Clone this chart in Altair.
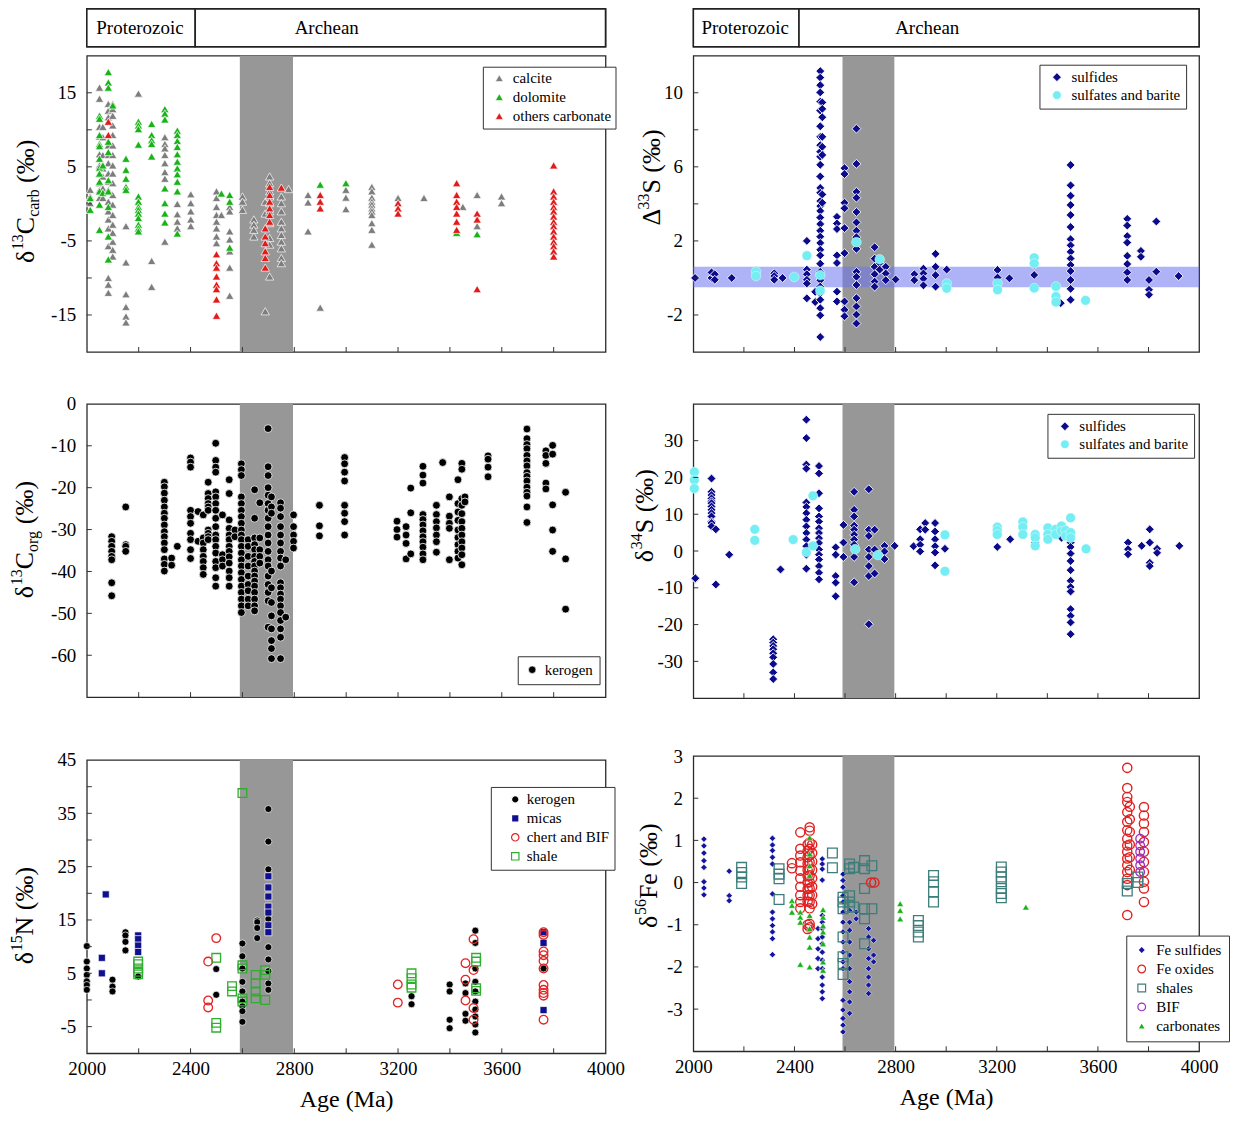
import altair as alt
import pandas as pd

FONT = "Liberation Serif"
AGE_DOMAIN = [2000, 4000]
x_label_values = [2000, 2400, 2800, 3200, 3600, 4000]
x_tick_values = [2200, 2400, 2600, 2800, 3000, 3200, 3400, 3600, 3800]
band_start = [2590]
band_end = [2795]
era_name = ["Proterozoic", "Archean"]
era_start = [2000, 2418]
era_end = [2418, 4000]
era_label_age = [2205, 2925]
d33_band_low = [-0.5]
d33_band_high = [0.6]

# ---------------- d13C carb ----------------
carb_calcite = [
    (2013, [1.9, 1.0, 0.1]),
    (2049, [15.7, 14.2, 10.4, 9.1, 6.7, 5.2, 4.0, 2.8, 1.9, 0.8]),
    (2062, [10.4, 9.0, 6.6, 4.8, 3.7, 2.1, 0.8]),
    (2083, [13.5, 12.6, 11.7, 7.9, 6.6, 5.5, 4.1, 3.0, 1.9, 0.3, -1.0, -2.1, -3.3, -4.4, -5.7, -10.0, -10.9, -12.0]),
    (2100, [13.5, 12.8, 11.9, 10.6, 9.3, 7.9, 6.6, 5.2, 4.1, 2.8, 1.2, -0.1, -1.5, -2.8, -3.9, -5.1, -6.2, -7.1]),
    (2151, [-3.0, -7.9, -12.2, -13.9, -15.2, -16.0]),
    (2199, [14.9]),
    (2250, [-7.7, -11.2]),
    (2301, [9.0, 8.1, 7.5, 6.6, 5.5, 4.3, 3.4, -5.1]),
    (2349, [0.0, -1.4, -2.4, -3.3]),
    (2401, [1.3, 0.1, -1.0, -2.1, -3.0]),
    (2500, [1.7, 0.8, -0.4, -1.5, -2.4, -3.3, -4.4, -5.3]),
    (2519, [-1.5]),
    (2551, [-0.4, -1.0, -3.7, -4.8, -6.4, -8.6, -12.4]),
    (2600, [1.0, 0.3, -0.8]),
    (2644, [-2.1, -2.8, -3.5, -4.4]),
    (2688, [0.3, -1.3, -14.5]),
    (2705, [3.7, 2.8, 1.7, 1.0, 0.1, -1.0, -2.6, -4.6, -5.5, -9.8]),
    (2750, [1.0, 0.1, -1.0, -2.4, -3.3, -4.2, -5.1, -6.0, -7.3, -8.0]),
    (2778, [2.0]),
    (2853, [1.2, 0.2, -3.7]),
    (2900, [-14.0]),
    (2999, [1.9, 0.85, -0.7]),
    (3099, [2.3, 1.7, 0.85, 0.3, -0.1, -0.6, -1.0, -1.5, -2.6, -3.5, -5.5]),
    (3200, [0.8]),
    (3300, [0.8]),
    (3450, [-0.4]),
    (3505, [1.2, -3.0]),
    (3599, [1.0, 0.1]),
]
carb_dolomite = [
    (2013, [0.8, -0.8]),
    (2049, [11.9, 11.5, 9.3, 8.1, 7.8, 6.1, 4.9, 4.1, 3.0, 1.7, -0.1, -3.5]),
    (2062, [5.2, 1.5]),
    (2083, [17.8, 16.4, 15.7, 8.4, 7.0, 3.2, 1.7, -0.4, -4.4, -7.5]),
    (2100, [13.3]),
    (2151, [6.1, 4.6, 3.4, 2.3, 1.9]),
    (2199, [11.1, 10.6, 10.1, 8.0, 1.0, 0.3, -0.4, -0.8, -1.3, -1.9, -2.8, -3.3, -3.7]),
    (2250, [10.8, 9.3, 8.6, 8.1, 6.4]),
    (2301, [12.8, 12.2, 11.4, 2.1, 0.1, -1.3, -2.5]),
    (2349, [9.9, 9.3, 8.5, 7.7, 6.7, 5.7, 4.8, 4.0, 3.0, 1.7, -4.0]),
    (2519, [1.4]),
    (2551, [1.2, 0.3, -5.9]),
    (2900, [2.6]),
    (2999, [2.8]),
    (3426, [-3.9]),
    (3505, [-4.1]),
]
carb_others = [
    (2083, [11.1, 9.3]),
    (2500, [-6.8, -8.0, -8.6, -9.8, -10.9, -11.5, -12.9, -15.1]),
    (2688, [-3.3, -4.4, -5.3, -6.4, -7.3, -8.6]),
    (2705, [2.3, 1.2, 0.3, -0.6, -1.5, -2.4]),
    (2750, [2.2]),
    (2900, [1.2, 0.3, -0.6]),
    (3200, [0.1, -0.6, -1.3]),
    (3426, [2.8, 1.2, 0.3, -0.4, -1.3, -2.4, -3.5]),
    (3505, [-1.3, -2.1, -11.5]),
    (3800, [5.2, 1.7, 1.0, 0.3, -0.4, -1.0, -1.7, -2.4, -3.0, -3.7, -4.4, -5.1, -5.7, -6.4, -7.1]),
]

# ---------------- D33S ----------------
s33_sulfides = [
    (2007, [0.0]),
    (2072, [0.0, 0.3]),
    (2085, [0.2, -0.1]),
    (2152, [0.0]),
    (2320, [0.25, 0.1, -0.1]),
    (2353, [0.0]),
    (2449, [2.0, 0.45, 0.2, -0.1, -0.3, -1.1]),
    (2482, [-0.75, -1.3]),
    (2502, [11.17, 10.82, 10.41, 10.02, 9.52, 9.04, 8.19, 7.62, 7.17, 6.82, 6.55, 6.11, 5.48, 4.86, 4.6, 4.15, 3.88,
            3.62, 3.26, 2.91, 2.55, 2.23, 1.89, 1.52, 1.22, 0.77, 0.33, -0.12, -0.47, -0.83, -1.18, -1.63, -2.02, -3.19]),
    (2510, [9.48, 9.13, 8.68, 7.62, 7.08, 6.64, 4.51, 4.06]),
    (2568, [3.3, 2.94, 2.64, 1.22, 0.81, -0.74, -1.27]),
    (2598, [5.93, 5.61, 4.06, 3.76, 2.69, 1.34, -1.27, -1.72, -2.07]),
    (2645, [8.06, 6.16, 4.65, 4.33, 3.56, 3.0, 2.55, 2.2, 1.57, 0.33, 0.06, -0.38, -1.09, -1.54, -1.98, -2.46]),
    (2717, [1.66, 1.04, 0.6, 0.2, -0.2, -0.47]),
    (2737, [0.8, 0.45]),
    (2761, [0.6, 0.24, -0.12]),
    (2800, [-0.08]),
    (2874, [0.2, -0.12]),
    (2910, [0.5, 0.24, -0.04, -0.4]),
    (2958, [1.3, 0.6, 0.15, -0.47]),
    (3002, [0.45]),
    (3203, [0.43, 0.02]),
    (3250, [-0.02]),
    (3348, [0.7, 0.16]),
    (3453, [-1.36]),
    (3492, [6.1, 5.0, 4.44, 3.94, 3.4, 2.75, 2.09, 1.76, 1.41, 1.05, 0.7, 0.37, -0.11, -0.59, -1.18]),
    (3716, [3.19, 2.83, 2.26, 1.91, 1.19, 0.75, 0.3, -0.11]),
    (3770, [1.46, 1.14]),
    (3802, [-0.11, -0.64, -0.91]),
    (3831, [3.05, 0.34]),
    (3919, [0.1]),
]
s33_sulfates = [
    (2248, [0.35, 0.1]),
    (2399, [0.05]),
    (2449, [1.2]),
    (2502, [0.15, -0.68]),
    (2645, [1.93]),
    (2737, [1.0]),
    (3002, [-0.3, -0.56]),
    (3203, [-0.29, -0.64]),
    (3348, [1.09, 0.78, -0.55]),
    (3434, [-0.46, -1.0, -1.3]),
    (3551, [-1.21]),
]

# ---------------- d13C org ----------------
org_kerogen = [
    (2096, [-31.7, -32.8, -34.0, -35.2, -36.4, -37.2, -42.7, -45.8]),
    (2150, [-24.6, -33.6, -34.0, -35.2]),
    (2299, [-18.7, -19.8, -21.3, -23.0, -24.6, -26.1, -27.3, -28.9, -30.5, -31.7, -33.2, -34.8, -37.0, -38.3, -39.9]),
    (2327, [-36.8, -38.5]),
    (2349, [-34.0]),
    (2400, [-12.9, -13.9, -15.1, -25.4, -26.9, -28.5, -30.9, -32.4, -34.8, -36.9]),
    (2429, [-25.7, -32.8]),
    (2449, [-26.5, -32.0, -33.2, -34.8, -36.4, -37.6, -39.1, -40.7]),
    (2468, [-18.7, -21.4, -22.6, -23.8, -24.6, -25.4, -30.1, -30.9, -31.7, -32.4]),
    (2497, [-9.4, -13.5, -15.1, -16.3, -21.0, -22.2, -23.8, -25.4, -27.3, -29.3, -31.3, -32.4, -34.0, -35.6, -37.6,
            -39.1, -41.5, -43.5]),
    (2523, [-26.5, -36.0, -37.2, -38.7]),
    (2549, [-18.1, -21.4, -27.7, -29.7, -31.3, -32.4, -34.0, -35.2, -36.5, -38.0, -39.9, -41.5, -43.5]),
    (2571, [-30.1, -31.7]),
    (2596, [-14.3, -15.7, -17.1, -22.2, -23.8, -25.4, -26.9, -28.5, -30.1, -31.3, -32.4, -34.0, -35.6, -37.2, -38.7,
            -40.3, -41.9, -43.5, -45.0, -46.6, -48.2, -49.8]),
    (2622, [-32.4, -34.0, -36.4, -38.7, -41.1, -43.1, -44.6, -46.6, -48.2]),
    (2647, [-20.5, -27.3, -32.0, -33.6, -34.8, -36.4, -37.6, -38.7, -39.9, -41.1, -42.3, -43.5, -45.0, -46.6, -48.2,
            -49.4]),
    (2667, [-23.6, -32.0, -34.8, -36.4, -38.0]),
    (2699, [-5.9, -15.0, -17.1, -20.0, -21.8, -23.8, -25.4, -27.3, -29.3, -31.3, -33.2, -35.2, -37.2, -38.7, -41.1,
            -43.1, -45.0, -47.0, -53.3]),
    (2712, [-22.2, -24.6, -26.1, -39.9, -43.9, -47.4, -50.6, -53.7, -56.5, -58.4, -60.8]),
    (2747, [-23.6, -24.9, -26.9, -29.3, -31.3, -33.2, -35.2, -36.8, -38.7, -42.7, -43.9, -45.4, -46.6, -48.2, -49.8,
            -51.7, -53.7, -55.7, -60.8]),
    (2767, [-37.2, -50.9]),
    (2797, [-26.5, -29.3, -31.3, -32.8, -34.4]),
    (2897, [-24.2, -29.1, -31.5]),
    (2994, [-12.8, -14.3, -16.3, -18.4, -24.2, -26.1, -28.1, -31.3]),
    (3196, [-28.0, -30.0, -31.8]),
    (3231, [-29.3, -31.3, -33.3, -37.0]),
    (3249, [-20.1, -26.0, -35.8]),
    (3296, [-14.9, -17.0, -18.9, -26.4, -27.6, -28.9, -30.3, -31.7, -32.9, -34.2, -35.8, -37.2]),
    (3348, [-24.2, -26.4, -28.1, -29.6, -31.3, -32.9, -35.4]),
    (3372, [-14.0]),
    (3398, [-22.2, -26.8, -28.5, -29.7, -37.2]),
    (3431, [-18.1, -23.8, -25.8, -27.8, -30.1, -31.9, -33.6, -35.2, -36.8]),
    (3446, [-14.2, -15.6, -22.6, -24.2, -26.2, -28.1, -29.7, -31.3, -32.9, -34.4, -36.0, -38.4]),
    (3458, [-22.2, -23.4]),
    (3547, [-12.4, -13.2, -15.1, -17.4]),
    (3697, [-6.0, -8.3, -9.7, -10.7, -12.3, -13.6, -14.8, -16.4, -17.3, -18.4, -19.9, -21.1, -22.0, -24.6, -28.3]),
    (3770, [-11.2, -12.3, -14.2, -18.9, -20.3]),
    (3796, [-9.9, -12.0, -24.1, -30.1, -35.2]),
    (3846, [-21.1, -37.0, -49.0]),
]

# ---------------- d34S ----------------
s34_sulfides = [
    (2008, [-7.6, -7.4]),
    (2072, [19.7, 16.1, 15.2, 14.3, 13.5, 13.0, 12.1, 11.2, 10.3, 9.4, 8.0, 7.6, 6.7]),
    (2089, [5.9, -9.1]),
    (2142, [-1.0]),
    (2316, [-24.0, -24.9, -25.8, -26.7, -27.8, -28.9, -30.7, -33.0, -34.8]),
    (2345, [-5.0]),
    (2447, [35.7, 30.7, 23.5, 22.4, 13.2, 12.0, 10.3, 8.5, 6.7, 4.9, 3.1, 1.3, -1.0, -4.8]),
    (2497, [23.1, 21.1, 15.7, 11.6, 9.4, 8.0, 6.2, 4.9, 3.5, 2.2, 0.4, -1.0, -2.3, -4.1, -5.9, -7.7]),
    (2563, [1.0, -1.0, -6.8, -8.6, -12.3]),
    (2594, [7.1, 2.3, -1.6]),
    (2636, [16.1, 11.2, 9.4, 6.9, 5.8, 4.4, 3.1, 1.7, -1.6, -8.5]),
    (2694, [16.8, 5.8, 4.1, 0.4, -1.6, -4.1, -6.8, -19.9]),
    (2717, [5.8, 0.4, -6.1]),
    (2756, [1.4, -0.1, -2.2]),
    (2796, [1.4]),
    (2871, [1.3]),
    (2897, [5.9, 3.2, 1.7, -0.1]),
    (2917, [7.6, 5.8]),
    (2956, [7.6, 5.3, 3.2, 1.3, -0.4, -3.9]),
    (2995, [0.6]),
    (3202, [1.1]),
    (3253, [3.2]),
    (3352, [2.3]),
    (3456, [3.6]),
    (3492, [3.2, 2.3, 1.1, -0.7, -2.7, -5.2, -8.1, -9.8, -11.0, -15.8, -17.6, -19.4, -22.6]),
    (3719, [2.3, 0.5, -0.9]),
    (3773, [1.4]),
    (3805, [5.9, 2.3, -3.2, -4.1]),
    (3834, [0.6, -0.5]),
    (3922, [1.4]),
]
s34_sulfates = [
    (2004, [21.5, 19.3, 17.0]),
    (2243, [5.9, 2.9]),
    (2395, [3.1]),
    (2447, [-0.3]),
    (2473, [15.0, 1.4]),
    (2640, [0.5]),
    (2730, [-1.1]),
    (2995, [4.4, -5.5]),
    (3202, [6.5, 5.6, 4.5]),
    (3303, [7.9, 6.5, 4.5]),
    (3352, [4.5, 3.6, 1.4]),
    (3402, [6.3, 4.5, 3.2]),
    (3433, [5.9, 4.5]),
    (3456, [6.8, 5.4]),
    (3472, [5.6, 4.1]),
    (3492, [9.0, 5.0, 3.6]),
    (3553, [0.6]),
]

# ---------------- d15N ----------------
n15_kerogen = [
    (2000, [10.1, 7.2, 5.9, 4.7, 3.5, 2.8, 1.9]),
    (2099, [3.8, 2.5, 1.6]),
    (2149, [12.7, 12.1, 10.9, 9.3]),
    (2198, [4.4]),
    (2499, [5.8, 0.97]),
    (2600, [10.6, 8.2, 5.9, 3.4, 1.6, -0.3, -1.2, -2.1, -4.1]),
    (2657, [14.9, 14.6, 13.5, 11.6]),
    (2700, [35.8, 29.7, 24.5, 15.2, 9.9, 7.6, 5.4, 3.1, 1.9]),
    (3252, [0.7, -0.8]),
    (3399, [2.9, 1.6, -3.7, -5.3]),
    (3460, [3.1, 1.3, -2.6, -3.9]),
    (3498, [13.0, 10.7, 5.9, 3.4, 1.6, -0.3, -1.8, -3.1, -4.6, -6.1]),
    (3761, [5.9]),
]
n15_micas = [
    (2058, [7.9, 5.0]),
    (2073, [19.8]),
    (2198, [12.1, 11.4, 10.2, 9.0]),
    (2700, [23.2, 21.1, 19.4, 17.5, 16.4, 14.0, 12.7]),
    (3761, [12.7, 10.7, -1.9]),
]
n15_chert = [
    (2468, [7.2, -0.1, -1.4]),
    (2499, [11.6]),
    (3199, [2.9, -0.5]),
    (3460, [6.9, 3.8, -0.1]),
    (3491, [11.4, 5.6, -1.5, -3.7]),
    (3761, [12.7, 12.2, 9.1, 8.4, 7.3, 5.9, 2.8, 1.9, 1.3, 0.8, -3.7]),
]
n15_shale = [
    (2198, [7.2, 6.7, 5.9, 5.3, 4.8]),
    (2499, [7.9, -4.3, -5.2]),
    (2560, [2.6, 1.6]),
    (2600, [38.8, 6.5, 5.9, 0.3, -0.3]),
    (2651, [4.7, 3.1, 1.6, 0.3]),
    (2688, [5.6, 4.7, 0.0]),
    (3252, [5.0, 4.1, 2.9, 2.3]),
    (3501, [7.9, 7.2, 2.2, 1.7]),
]

# ---------------- d56Fe ----------------
fe_sulfides = [
    (2042, [1.03, 0.87, 0.70, 0.52, 0.36, 0.02, -0.13, -0.29]),
    (2142, [0.27, -0.31, -0.43]),
    (2313, [1.05, 0.89, 0.76, 0.6, 0.44, -0.27, -0.70, -0.86, -1.02, -1.17, -1.33, -1.71]),
    (2493, [-1.09, -1.33, -1.57, -1.80, -2.04]),
    (2510, [0.56, 0.44, 0.32, 0.06, -0.78, -0.94, -1.09, -1.29, -1.45, -1.65, -1.84, -2.04, -2.24, -2.43, -2.59, -2.75]),
    (2592, [0.2, 0.05, -0.11, -0.31, -0.46, -0.70, -0.94, -1.17, -1.41, -1.65, -1.88, -2.04, -2.79, -3.02, -3.22,
            -3.38, -3.54]),
    (2618, [-0.66, -0.94, -1.13, -1.41, -1.72, -2.04, -2.35, -2.59, -2.83, -3.1]),
    (2644, [-0.70, -0.86]),
    (2693, [-1.09, -1.29, -1.57, -1.80, -2.04, -2.24, -2.43, -2.63]),
    (2713, [-1.37, -1.72, -1.88]),
]
fe_oxides = [
    (2390, [0.46, 0.34]),
    (2423, [1.19, 0.8, 0.64, 0.48, 0.28, 0.1, -0.10, -0.30, -0.46, -0.61]),
    (2452, [0.9, 0.75, 0.6, 0.45, 0.3, 0.15, 0.0, -0.15, -0.3, -0.45, -1.0, -1.1]),
    (2460, [1.31, 1.23, 0.95, 0.8, 0.64, 0.48, 0.32, 0.17, 0.01, -0.14, -0.30, -0.46, -0.61, -0.98, -1.06]),
    (2470, [0.9, 0.7, 0.5, 0.3, 0.1, -0.1, -0.3, -0.5]),
    (2703, [0.0]),
    (2716, [0.0]),
    (3716, [2.72, 2.24, 2.03, 1.91, 1.67, 1.44, 1.24, 1.04, 0.88, 0.73, 0.57, 0.41, 0.25, 0.09, -0.06, -0.77]),
    (3726, [1.8, 1.5, 1.2, 0.9, 0.6, 0.3]),
    (3782, [1.79, 1.59, 1.40, 1.20, 0.96, 0.73, 0.49, 0.25, 0.02, -0.14, -0.46]),
]
fe_shales = [
    (2191, [0.36, 0.24, 0.13, -0.02]),
    (2339, [0.33, 0.2, 0.09, -0.40]),
    (2550, [0.70, 0.35]),
    (2592, [-0.35, -0.46, -0.62, -1.29, -1.76, -1.92, -2.18]),
    (2618, [0.44, 0.33, -0.31, -0.46, -0.58]),
    (2634, [0.36, -0.58]),
    (2677, [0.52, 0.33, -0.14, -0.62, -0.86, -1.45]),
    (2706, [0.40, -0.62]),
    (2890, [-0.9, -1.02, -1.17, -1.29]),
    (2950, [0.17, 0.02, -0.22, -0.46]),
    (3218, [0.37, 0.25, 0.13, 0.02, -0.14, -0.26, -0.36]),
    (3716, [-0.02, -0.2]),
    (3758, [0.13, 0.0]),
]
fe_bif = [
    (3767, [1.04, 0.88, 0.73, 0.57, 0.41, 0.25]),
]
fe_carbonates = [
    (2390, [-0.43, -0.54, -0.70]),
    (2423, [-0.70, -0.82, -0.94, -1.94]),
    (2460, [1.07, 0.68, 0.40, 0.17, -0.78, -1.09, -1.29, -1.53, -2.0]),
    (2513, [-0.64, -0.82, -1.02, -1.17, -1.45, -1.88, -2.08]),
    (2818, [-0.5, -0.66, -0.86]),
    (3315, [-0.58]),
]


# ======================= helpers =======================
def to_df(series_list):
    rows = []
    for name, groups in series_list:
        for age, vals in groups:
            for v in vals:
                rows.append({"age": age, "value": v, "series": name})
    return pd.DataFrame(rows)


EM = {"δ": 0.5, "Δ": 0.612, "C": 0.667, "S": 0.556, "N": 0.722, "F": 0.556, "e": 0.444, "c": 0.444,
      "a": 0.444, "r": 0.333, "b": 0.5, "o": 0.5, "g": 0.5, "(": 0.333, ")": 0.333, "‰": 1.0, " ": 0.25}


def text_width(s, size):
    return sum(EM.get(ch, 0.5) for ch in s) * size


ONE = pd.DataFrame({"k": [0]})


def title_layers(pieces, cx, cy, big=26, small=16):
    def psize(kind):
        return big if kind in ("n", "gap") else small

    total = 0.0
    for t, k in pieces:
        total += 0.25 * big if k == "gap" else text_width(t, psize(k))
    ax = cx + 0.33 * big
    ay = cy + total / 2
    pos = 0.0
    out = []
    for t, k in pieces:
        if k == "gap":
            pos += 0.25 * big
            continue
        size = psize(k)
        dy = {"n": 0, "sup": -0.42 * big, "sub": 0.22 * big}[k]
        out.append(
            alt.Chart(ONE).mark_text(text=t, font=FONT, fontSize=size, angle=270, align="left",
                                     baseline="alphabetic", dx=pos, dy=dy, color="black")
            .encode(x=alt.value(ax), y=alt.value(ay))
        )
        pos += text_width(t, size)
    return out


def panel(df, styles, ydomain, ylabels, yticks, width, height, title, title_c, leg, bottom=False, blue=False):
    xs = alt.Scale(domain=AGE_DOMAIN, nice=False, zero=False)
    ys = alt.Scale(domain=ydomain, nice=False, zero=False)
    if bottom:
        xaxis = alt.Axis(values=x_label_values, labelFont=FONT, labelFontSize=19, labelColor="black",
                         labelPadding=6, ticks=False, domain=False, grid=False, title="Age (Ma)",
                         titleFont=FONT, titleFontSize=24, titleFontWeight="normal", titleColor="black",
                         titlePadding=9, labelFlush=False, labelOverlap=False, labelExpr="'' + datum.value")
    else:
        xaxis = None
    yaxis = alt.Axis(values=ylabels, labelFont=FONT, labelFontSize=19, labelColor="black", labelPadding=11,
                     ticks=False, domain=False, grid=False, title=None, labelExpr="'' + datum.value",
                     labelOverlap=False)
    names = [s["name"] for s in styles]
    legend = alt.Legend(title=None, orient="none", legendX=leg["x"], legendY=leg["y"],
                        labelFont=FONT, labelFontSize=15, labelColor="black", labelLimit=400,
                        strokeColor="#333333", fillColor="white", padding=leg.get("pad", 5),
                        rowPadding=leg.get("row", 3), symbolOffset=leg.get("soff", 6),
                        labelOffset=leg.get("loff", 6), symbolSize=leg.get("ssize", 60),
                        symbolStrokeWidth=leg.get("ssw", 0.6), cornerRadius=0)
    fill_sc = alt.Scale(domain=names, range=[s["fill"] for s in styles])
    stroke_sc = alt.Scale(domain=names, range=[s["stroke"] for s in styles])
    shape_sc = alt.Scale(domain=names, range=[s["shape"] for s in styles])

    layers = []
    bdf = pd.DataFrame({"start": band_start, "end": band_end})
    layers.append(
        alt.Chart(bdf).mark_rect(color="#979797").encode(
            x=alt.X("start:Q", scale=xs, axis=xaxis), x2="end:Q", y=alt.value(0), y2=alt.value(height))
    )
    if blue:
        bl = pd.DataFrame({"lo": d33_band_low, "hi": d33_band_high})
        layers.append(
            alt.Chart(bl).mark_rect(color="#6b73f0", opacity=0.55).encode(
                y=alt.Y("lo:Q", scale=ys, axis=yaxis), y2="hi:Q", x=alt.value(0), x2=alt.value(width))
        )
    for s in styles:
        sub = df[df["series"] == s["name"]]
        layers.append(
            alt.Chart(sub).mark_point(filled=True, opacity=1, size=s["size"], strokeWidth=s["sw"]).encode(
                x=alt.X("age:Q", scale=xs, axis=xaxis),
                y=alt.Y("value:Q", scale=ys, axis=yaxis),
                fill=alt.Fill("series:N", scale=fill_sc, legend=legend),
                stroke=alt.Stroke("series:N", scale=stroke_sc, legend=legend),
                shape=alt.Shape("series:N", scale=shape_sc, legend=legend),
            )
        )
    xt = pd.DataFrame({"t": x_tick_values})
    layers.append(
        alt.Chart(xt).mark_rule(color="#333333", strokeWidth=1).encode(
            x=alt.X("t:Q", scale=xs, axis=xaxis), y=alt.value(height - 5), y2=alt.value(height))
    )
    yt = pd.DataFrame({"t": yticks})
    layers.append(
        alt.Chart(yt).mark_rule(color="#333333", strokeWidth=1).encode(
            y=alt.Y("t:Q", scale=ys, axis=yaxis), x=alt.value(0), x2=alt.value(5))
    )
    layers += title_layers(title, title_c[0], title_c[1])
    return alt.layer(*layers).properties(width=width, height=height)


def header(width):
    xs = alt.Scale(domain=AGE_DOMAIN, nice=False, zero=False)
    edf = pd.DataFrame({"name": era_name, "start": era_start, "end": era_end, "lab": era_label_age})
    rect = alt.Chart(edf).mark_rect(fill="white", stroke="#222222", strokeWidth=1.6).encode(
        x=alt.X("start:Q", scale=xs, axis=None), x2="end:Q", y=alt.value(0), y2=alt.value(38))
    txt = alt.Chart(edf).mark_text(font=FONT, fontSize=19, color="black", baseline="middle").encode(
        x=alt.X("lab:Q", scale=xs, axis=None), y=alt.value(19), text="name:N")
    return alt.layer(rect, txt).properties(width=width, height=38)


def res(c):
    return c.resolve_scale(x="independent", y="independent", fill="independent", stroke="independent",
                           shape="independent").resolve_legend(fill="independent", stroke="independent",
                                                               shape="independent")


def filled(name, color, shape, size, sw=0.8):
    return {"name": name, "fill": color, "stroke": "white", "shape": shape, "size": size, "sw": sw}


def hollow(name, color, shape, size, sw=1.4):
    return {"name": name, "fill": "transparent", "stroke": color, "shape": shape, "size": size, "sw": sw}


# ======================= panels =======================
LW, RW = 520, 507

p_carb = panel(
    to_df([("calcite", carb_calcite), ("dolomite", carb_dolomite), ("others carbonate", carb_others)]),
    [filled("calcite", "#7d7d7d", "triangle-up", 70, 0.7),
     filled("dolomite", "#19b319", "triangle-up", 70, 0.7),
     filled("others carbonate", "#e31a1a", "triangle-up", 70, 0.7)],
    [-20, 20], [15, 5, -5, -15], [-15, -10, -5, 0, 5, 10, 15], LW, 297,
    [("δ", "n"), ("13", "sup"), ("C", "n"), ("carb", "sub"), ("", "gap"), ("(‰)", "n")], (-62, 146),
    {"x": 397, "y": 11, "soff": 5, "loff": 6, "ssize": 60, "pad": 4},
)

p_org = panel(
    to_df([("kerogen", org_kerogen)]),
    [filled("kerogen", "#000000", "circle", 62, 0.8)],
    [-70, 0], [0, -10, -20, -30, -40, -50, -60], [-60, -50, -40, -30, -20, -10], LW, 294,
    [("δ", "n"), ("13", "sup"), ("C", "n"), ("org", "sub"), ("", "gap"), ("(‰)", "n")], (-63, 136),
    {"x": 432, "y": 253, "soff": 1, "loff": 5, "ssize": 55, "pad": 6},
)

p_n = panel(
    to_df([("kerogen", n15_kerogen), ("micas", n15_micas), ("chert and BIF", n15_chert), ("shale", n15_shale)]),
    [filled("kerogen", "#000000", "circle", 50, 0.7),
     filled("micas", "#10108f", "square", 50, 0.7),
     hollow("chert and BIF", "#e52222", "circle", 75, 1.3),
     hollow("shale", "#2fae2f", "square", 75, 1.3)],
    [-10, 45], [45, 35, 25, 15, 5, -5], [-5, 0, 5, 10, 15, 20, 25, 30, 35, 40], LW, 294,
    [("δ", "n"), ("15", "sup"), ("N", "n"), ("", "gap"), ("(‰)", "n")], (-63, 156),
    {"x": 405, "y": 27, "soff": 12, "loff": 4, "ssize": 55, "ssw": 1.2},
    bottom=True,
)

p_s33 = panel(
    to_df([("sulfides", s33_sulfides), ("sulfates and barite", s33_sulfates)]),
    [filled("sulfides", "#0b0b8b", "diamond", 80, 0.9),
     filled("sulfates and barite", "#74eef2", "circle", 95, 0.4)],
    [-4, 12], [10, 6, 2, -2], [-2, 0, 2, 4, 6, 8, 10], RW, 297,
    [("Δ", "n"), ("33", "sup"), ("S", "n"), ("", "gap"), ("(‰)", "n")], (-42, 122),
    {"x": 347, "y": 9, "soff": 5, "loff": 7, "ssize": 75, "row": 2},
    blue=True,
)

p_s34 = panel(
    to_df([("sulfides", s34_sulfides), ("sulfates and barite", s34_sulfates)]),
    [filled("sulfides", "#0b0b8b", "diamond", 80, 0.9),
     filled("sulfates and barite", "#74eef2", "circle", 95, 0.4)],
    [-40, 40], [30, 20, 10, 0, -10, -20, -30], [-30, -20, -10, 0, 10, 20, 30], RW, 295,
    [("δ", "n"), ("34", "sup"), ("S", "n"), ("", "gap"), ("(‰)", "n")], (-49, 112),
    {"x": 355, "y": 10, "soff": 5, "loff": 7, "ssize": 75, "row": 2},
)

p_fe = panel(
    to_df([("Fe sulfides", fe_sulfides), ("Fe oxides", fe_oxides), ("shales", fe_shales), ("BIF", fe_bif),
           ("carbonates", fe_carbonates)]),
    [filled("Fe sulfides", "#1414a0", "diamond", 40, 0.6),
     hollow("Fe oxides", "#e02020", "circle", 85, 1.4),
     hollow("shales", "#3d7e7b", "square", 95, 1.3),
     hollow("BIF", "#9b30c0", "circle", 75, 1.3),
     filled("carbonates", "#19b319", "triangle-up", 45, 0.5)],
    [-4, 3], [3, 2, 1, 0, -1, -2, -3], [-3, -2, -1, 0, 1, 2], RW, 296,
    [("δ", "n"), ("56", "sup"), ("Fe", "n"), ("", "gap"), ("(‰)", "n")], (-45, 120),
    {"x": 434, "y": 180, "soff": 1, "loff": 7, "ssize": 60, "pad": 7, "row": 3, "ssw": 1.2},
    bottom=True,
)

left_col = res(alt.vconcat(header(LW),
                           res(alt.vconcat(p_carb, res(alt.vconcat(p_org, p_n, spacing=51)), spacing=40)),
                           spacing=6))
right_col = res(alt.vconcat(header(RW),
                            res(alt.vconcat(p_s33, res(alt.vconcat(p_s34, p_fe, spacing=46)), spacing=49)),
                            spacing=6))

chart = res(alt.hconcat(left_col, right_col, spacing=3)).configure_view(
    stroke="#2a2a2a", strokeWidth=1.3
).properties(padding={"left": 0, "top": -2.5, "right": 0, "bottom": 0}, background="white")

chart.save("out.html", embed_options={"renderer": "svg", "actions": False})
